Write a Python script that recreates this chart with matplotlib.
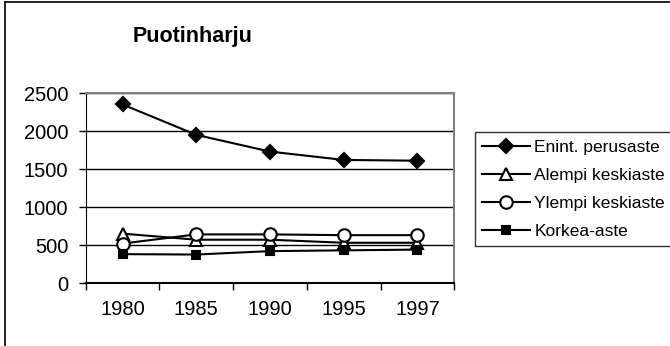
import matplotlib.pyplot as plt
from matplotlib.lines import Line2D

plt.rcParams['font.family'] = ['Liberation Sans', 'DejaVu Sans']

years = ['1980', '1985', '1990', '1995', '1997']
enint_perusaste = [2350, 1950, 1730, 1620, 1610]
alempi_keskiaste = [650, 570, 570, 530, 530]
ylempi_keskiaste = [520, 640, 640, 630, 630]
korkea_aste = [380, 375, 420, 430, 440]

series = [
    ('Enint. perusaste', enint_perusaste, 'D', 'black', 7),
    ('Alempi keskiaste', alempi_keskiaste, '^', 'white', 8),
    ('Ylempi keskiaste', ylempi_keskiaste, 'o', 'white', 9),
    ('Korkea-aste', korkea_aste, 's', 'black', 6),
]

fig = plt.figure(figsize=(6.7, 3.46), dpi=100)
ax = fig.add_axes([0.128, 0.182, 0.55, 0.549])

x = list(range(len(years)))
for name, vals, mk, fc, ms in series:
    ax.plot(x, vals, color='black', linewidth=1.5, marker=mk, markersize=ms,
            markerfacecolor=fc, markeredgecolor='black', markeredgewidth=1.5,
            label=name, clip_on=False, zorder=3)

ax.set_ylim(0, 2500)
ax.set_yticks([0, 500, 1000, 1500, 2000, 2500])
ax.set_xlim(-0.5, len(years) - 0.5)
ax.grid(axis='y', color='black', linewidth=1)
ax.set_axisbelow(True)

# categories sit between the tick marks
ax.set_xticks([i - 0.5 for i in range(len(years) + 1)])
ax.set_xticklabels([])
ax.set_xticks(x, minor=True)
ax.set_xticklabels(years, minor=True)
ax.tick_params(axis='x', which='major', direction='out', length=5, width=1)
ax.tick_params(axis='x', which='minor', length=0, pad=12.5, labelsize=14.5)
ax.tick_params(axis='y', direction='out', length=5, width=1, labelsize=14.5, pad=7.5)

ax.spines['left'].set_color('black')
ax.spines['bottom'].set_color('black')
ax.spines['bottom'].set_linewidth(1.5)
ax.spines['top'].set_color('#808080')
ax.spines['right'].set_color('#808080')
ax.spines['top'].set_linewidth(1.5)
ax.spines['right'].set_linewidth(1.5)

fig.text(0.288, 0.879, 'Puotinharju', fontsize=15.5, fontweight='bold',
         ha='center', va='baseline')

leg = fig.legend(loc='upper left', bbox_to_anchor=(0.709, 0.618), fontsize=12.5,
                 frameon=True, fancybox=False, edgecolor='black',
                 handlelength=2.76, handletextpad=0.23, borderpad=0.43,
                 labelspacing=0.74, borderaxespad=0)
leg.get_frame().set_linewidth(1)

# outer chart frame
fig.add_artist(Line2D([0.008, 0.008], [0, 0.994], transform=fig.transFigure,
                      color='black', linewidth=1.2))
fig.add_artist(Line2D([0.008, 1.0], [0.994, 0.994], transform=fig.transFigure,
                      color='black', linewidth=1.2))

fig.savefig('out.png', dpi=100)
